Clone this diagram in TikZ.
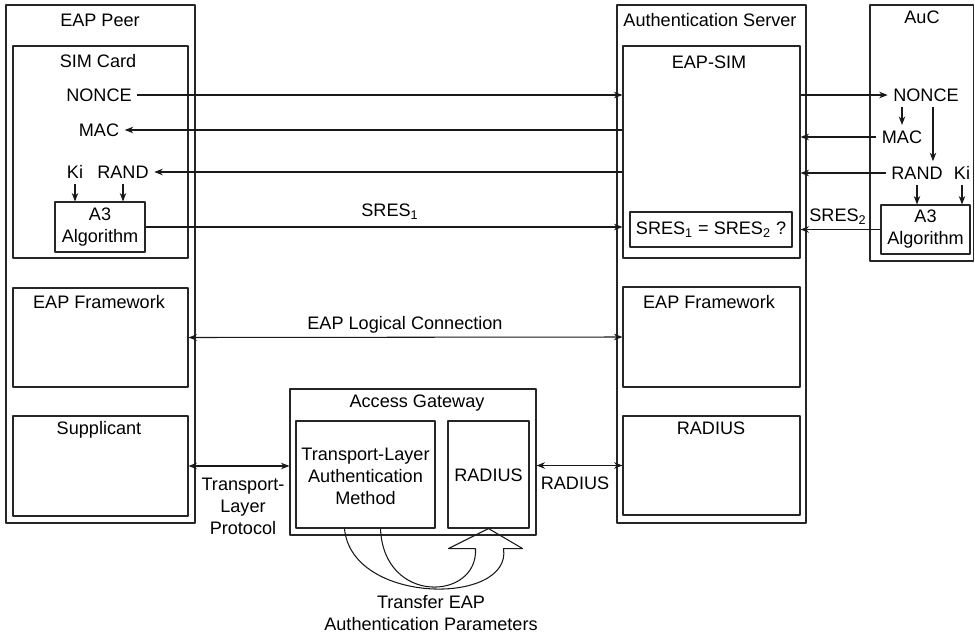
\documentclass[tikz,border=0pt]{standalone}
\usepackage{fontspec}
\setmainfont{Liberation Sans}
\usepackage{tikz}
\usetikzlibrary{arrows.meta,calc,fit}

\begin{document}
\begin{tikzpicture}[x=0.2mm,y=-0.2mm,>={Stealth[length=1.7mm,width=1.3mm]},line join=round,
  font=\fontsize{10.3}{12.5}\selectfont,
  box/.style={draw=black!85,line width=0.6pt,inner sep=0pt},
  txt/.style={inner sep=3pt,align=center},
  link/.style={draw=black!90,line width=0.6pt}]
  \useasboundingbox (0,0) rectangle (975,637);
  \node[box,fit={(6,5) (195,523)}] (peer) {};
  \node[box,fit={(13,46) (188,258)}] (sim) {};
  \node[box,fit={(55,202) (145,252)}] (a3P) {};
  \node[box,fit={(13,288) (188,387)}] (fwP) {};
  \node[box,fit={(13,416) (188,516)}] (supp) {};
  \node[box,fit={(617,5) (806,523)}] (server) {};
  \node[box,fit={(623,46) (800,258)}] (easim) {};
  \node[box,fit={(630,212) (792,247)}] (cmp) {};
  \node[box,fit={(623,287) (800,387)}] (fwS) {};
  \node[box,fit={(623,416) (800,515)}] (radS) {};
  \node[box,fit={(870,5) (973.5,261)}] (auc) {};
  \node[box,fit={(881,205) (970,254)}] (a3A) {};
  \node[box,fit={(290,389) (536,535)}] (gw) {};
  \node[box,fit={(296,421) (435,528)}] (tlam) {};
  \node[box,fit={(448,421) (529,528)}] (radG) {};
  \node[txt] (a3PT) at (a3P.center) {A3\\Algorithm};
  \node[txt] (a3AT) at (a3A.center) {A3\\Algorithm};
  \node[txt] (cmpT) at (cmp.center) {SRES\textsubscript{1} = SRES\textsubscript{2} ?};
  \node[txt] (tlamT) at (365.5,476) {Transport-Layer\\Authentication\\Method};
  \node[txt] (radGT) at (488.5,475) {RADIUS};
  \node[txt] (peerT) at (100,20) {EAP Peer};
  \node[txt] (simT) at (98,61) {SIM Card};
  \node[txt] (fwPT) at (99,302) {EAP Framework};
  \node[txt] (suppT) at (99,430) {Supplicant};
  \node[txt] (serverT) at (710,20) {Authentication Server};
  \node[txt] (easimT) at (709,62) {EAP-SIM};
  \node[txt] (fwST) at (709,302) {EAP Framework};
  \node[txt] (radST) at (711,428) {RADIUS};
  \node[txt] (aucT) at (922,17) {AuC};
  \node[txt] (gwT) at (417,403) {Access Gateway};
  \node[txt] (nonceP) at (99,95) {NONCE};
  \node[txt] (macP) at (99,130) {MAC};
  \node[txt] (kiP) at (75,172) {Ki};
  \node[txt] (randP) at (123,172) {RAND};
  \node[txt] (nonceA) at (926,95) {NONCE};
  \node[txt] (macA) at (902,137) {MAC};
  \node[txt] (randA) at (917,173) {RAND};
  \node[txt] (kiA) at (962,173) {Ki};
  \node[txt] (sres1) at (390,212) {SRES\textsubscript{1}};
  \node[txt] (sres2) at (838,217) {SRES\textsubscript{2}};
  \node[txt] (logic) at (405,325) {EAP Logical Connection};
  \node[txt] (tlp) at (243,506) {Transport-\\Layer\\Protocol};
  \node[txt] (radL) at (575,483) {RADIUS};
  \node[txt] (xfer) at (431,613) {Transfer EAP\\Authentication Parameters};
  \coordinate (nrA) at ($(nonceA.south)+(7,0)$);
  \draw[->,link] (nonceP.east) -- (nonceP.east -| easim.west);
  \draw[->,link] (easim.west |- macP.east) -- (macP.east);
  \draw[->,link] (easim.west |- randP.east) -- (randP.east);
  \draw[->,link] (kiP.south) -- (kiP.south |- a3P.north);
  \draw[->,link] (randP.south) -- (randP.south |- a3P.north);
  \draw[->,link] (a3P.east) -- (a3P.east -| easim.west);
  \draw[->,link] (easim.east |- nonceA.west) -- (nonceA.west);
  \draw[->,link] (macA.west) -- (macA.west -| easim.east);
  \draw[->,link] (randA.west) -- (randA.west -| easim.east);
  \draw[->,link] (a3A.west) -- (a3A.west -| easim.east);
  \draw[->,link] (macA.north |- nonceA.south) -- (macA.north);
  \draw[->,link] (nrA) -- (nrA |- randA.north);
  \draw[->,link] (randA.south) -- (randA.south |- a3A.north);
  \draw[->,link] (kiA.south) -- (kiA.south |- a3A.north);
  \draw[<->,link] (fwP.east) -- (fwS.west);
  \draw[<->,link] (supp.east) -- (supp.east -| gw.west);
  \draw[<->,link] (gw.east |- radS.west) -- (radS.west);
  \draw[link] ($(tlam.south)+(-21,0)$) .. controls +(7,77) and +(9,57) .. ($(radG.south)+(15,20)$)
    -- ($(radG.south)+(34,20)$) -- (radG.south) -- ($(radG.south)+(-40,20)$) -- ($(radG.south)+(-13,20)$)
    .. controls +(3,52) and +(3,77) .. ($(tlam.south)+(15,0)$);
\end{tikzpicture}
\end{document}
